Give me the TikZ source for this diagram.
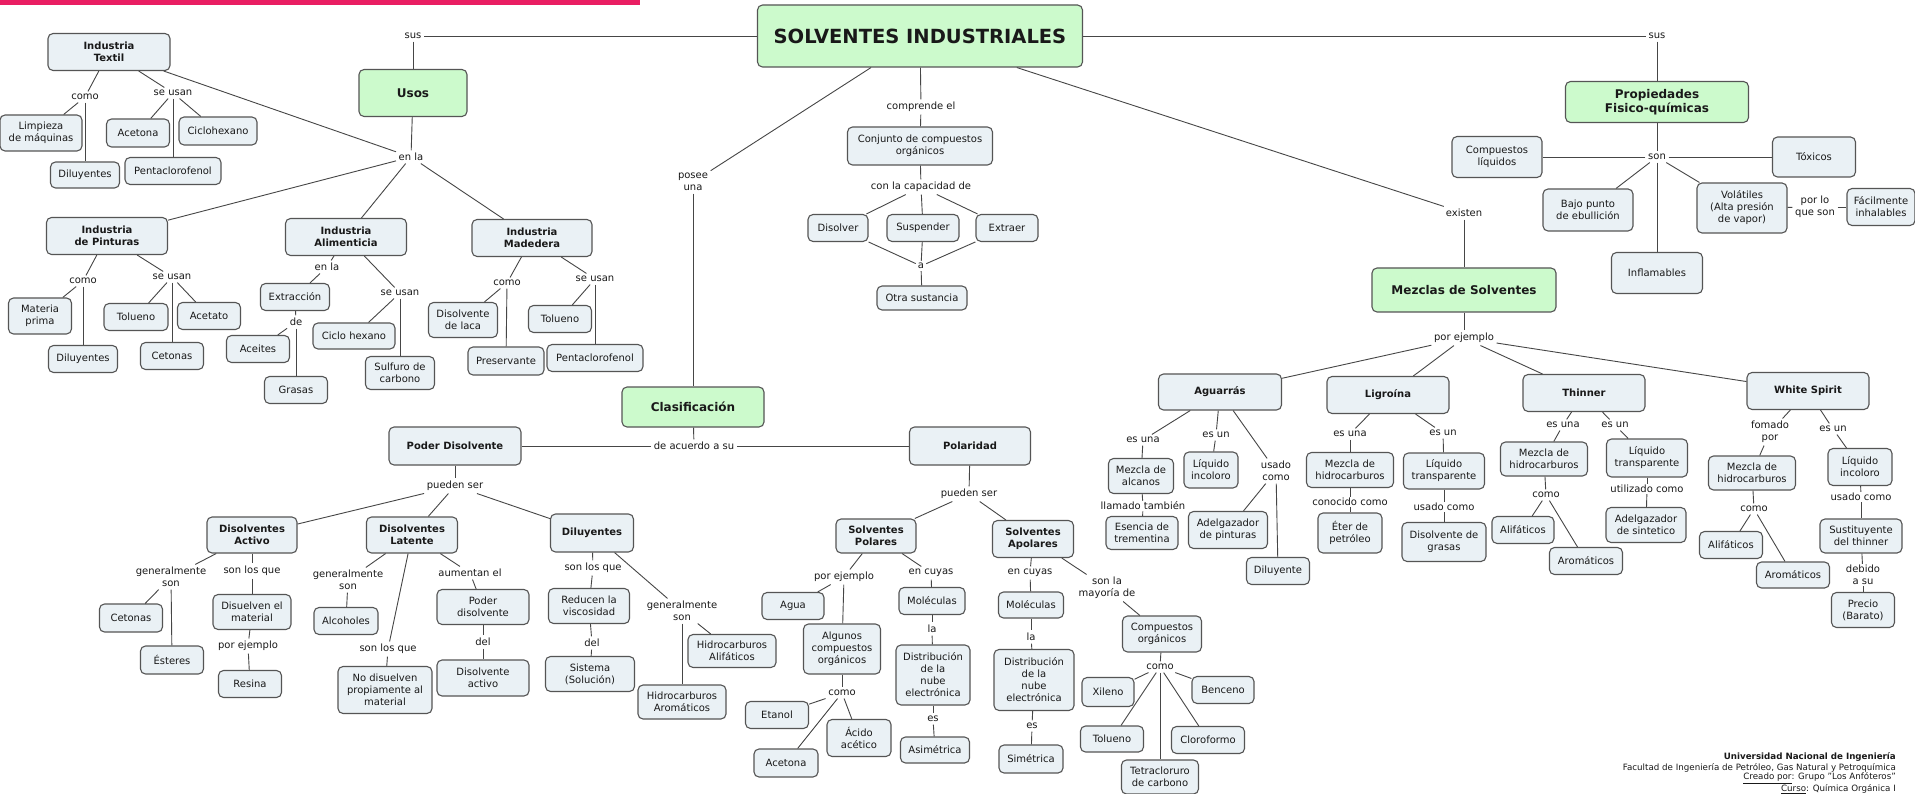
\documentclass[tikz,border=0pt]{standalone}
\usepackage{fontspec}
\setmainfont{DejaVu Sans}
\definecolor{bfill}{RGB}{234,241,245}
\definecolor{gfill}{RGB}{204,250,204}
\definecolor{bdr}{RGB}{85,85,85}
\definecolor{lc}{RGB}{70,70,70}
\definecolor{txt}{RGB}{25,25,25}
\definecolor{pinkbar}{RGB}{233,30,99}
\newcommand{\mynf}{\fontsize{10}{12}\selectfont}
\newcommand{\mybf}{\fontsize{10}{12}\selectfont\bfseries}
\newcommand{\mygf}{\fontsize{12}{14}\selectfont\bfseries}
\newcommand{\myft}{\fontsize{8.7}{10}\selectfont}
\tikzset{
  box/.style={draw=bdr, fill=bfill, rounded corners=5pt, line width=1.1pt, align=center, font=\mynf, text=txt, inner xsep=4pt, inner ysep=3pt},
  bbox/.style={box, font=\mybf},
  gbox/.style={box, fill=gfill, font=\mygf},
  lbl/.style={font=\mynf, text=txt, align=center, inner sep=2.5pt},
  ln/.style={draw=lc, line width=0.9pt},
  sz/.style 2 args={minimum width=#1pt, minimum height=#2pt},
  foot/.style={font=\myft, text=txt, anchor=east, inner sep=0pt},
}
\begin{document}
\begin{tikzpicture}[x=1pt, y=-1pt]
\fill[white] (0,0) rectangle (1915,794);
\useasboundingbox (0,0) rectangle (1915,794);
\fill[pinkbar] (0,0) rectangle (640,5);

% ---------- main ----------
\node[box, fill=gfill, font=\fontsize{19.5}{22}\selectfont\bfseries, sz={325}{62}] (main) at (920,36) {SOLVENTES INDUSTRIALES};

% ---------- Usos ----------
\node[lbl] (susL) at (413,36) {sus};
\node[gbox, sz={108}{47}] (usos) at (413,93) {Usos};
\node[lbl] (enla) at (411,157) {en la};
\node[bbox, sz={122}{37}] (textil) at (109,52) {Industria\\Textil};
\node[lbl] (comoT) at (85,97) {como};
\node[lbl] (seusanT) at (173,93) {se usan};
\node[box, sz={82}{36}] (limpieza) at (41,133) {Limpieza\\de máquinas};
\node[box, sz={63}{28}] (acetonaT) at (138,133) {Acetona};
\node[box, sz={78}{28}] (ciclohex) at (218,131) {Ciclohexano};
\node[box, sz={69}{26}] (diluT) at (85,175) {Diluyentes};
\node[box, sz={96}{27}] (pentaT) at (173,171) {Pentaclorofenol};

\node[bbox, sz={121}{37}] (pinturas) at (107,236) {Industria\\de Pinturas};
\node[lbl] (comoP) at (83,281) {como};
\node[lbl] (seusanP) at (172,277) {se usan};
\node[box, sz={63}{36}] (materia) at (40,316) {Materia\\prima};
\node[box, sz={69}{27}] (diluP) at (83,359) {Diluyentes};
\node[box, sz={64}{27}] (toluenoP) at (136,317) {Tolueno};
\node[box, sz={63}{27}] (acetato) at (209,316) {Acetato};
\node[box, sz={63}{27}] (cetonasP) at (172,356) {Cetonas};

\node[bbox, sz={121}{37}] (alimenticia) at (346,237) {Industria\\Alimenticia};
\node[lbl] (enlaA) at (327,267) {en la};
\node[box, sz={69}{27}] (extraccion) at (295,297) {Extracción};
\node[lbl] (deA) at (296,322) {de};
\node[box, sz={63}{27}] (aceites) at (258,349) {Aceites};
\node[box, sz={63}{27}] (grasas) at (296,390) {Grasas};
\node[lbl] (seusanA) at (400,293) {se usan};
\node[box, sz={82}{26}] (ciclohexA) at (354,336) {Ciclo hexano};
\node[box, sz={69}{33}] (sulfuro) at (400,373) {Sulfuro de\\carbono};

\node[bbox, sz={120}{37}] (madedera) at (532,238) {Industria\\Madedera};
\node[lbl] (comoM) at (507,283) {como};
\node[lbl] (seusanM) at (595,279) {se usan};
\node[box, sz={69}{35}] (laca) at (463,320) {Disolvente\\de laca};
\node[box, sz={76}{28}] (preserv) at (506,361) {Preservante};
\node[box, sz={63}{27}] (toluenoM) at (560,319) {Tolueno};
\node[box, sz={96}{27}] (pentaM) at (595,358) {Pentaclorofenol};

% ---------- comprende ----------
\node[lbl] (comprende) at (921,107) {comprende el};
\node[box, sz={145}{38}] (conjunto) at (920,146) {Conjunto de compuestos\\orgánicos};
\node[lbl] (capacidad) at (921,187) {con la capacidad de};
\node[box, sz={60}{27}] (disolver) at (838,228) {Disolver};
\node[box, sz={72}{27}] (suspender) at (923,228) {Suspender};
\node[box, sz={62}{27}] (extraer) at (1007,228) {Extraer};
\node[lbl, inner sep=2pt] (aL) at (921,266) {a};
\node[box, sz={90}{24}] (otra) at (922,298) {Otra sustancia};

% ---------- Propiedades ----------
\node[lbl] (susR) at (1657,36) {sus};
\node[gbox, sz={183}{41}] (propiedades) at (1657,102) {Propiedades\\Fisico-químicas};
\node[lbl] (sonR) at (1657,157) {son};
\node[box, sz={90}{41}] (compliq) at (1497,157) {Compuestos\\líquidos};
\node[box, sz={83}{40}] (toxicos) at (1814,157) {Tóxicos};
\node[box, sz={90}{42}] (bajo) at (1588,210) {Bajo punto\\de ebullición};
\node[box, sz={90}{50}] (volatiles) at (1742,208) {Volátiles\\(Alta presión\\de vapor)};
\node[lbl] (porlo) at (1815,207) {por lo\\que son};
\node[box, sz={68}{37}] (facil) at (1881,207) {Fácilmente\\inhalables};
\node[box, sz={91}{41}] (inflam) at (1657,273) {Inflamables};

% ---------- Mezclas ----------
\node[lbl] (existen) at (1464,213) {existen};
\node[gbox, sz={184}{44}] (mezclas) at (1464,290) {Mezclas de Solventes};
\node[lbl] (porej) at (1464,338) {por ejemplo};
\node[bbox, sz={123}{36}] (aguarras) at (1220,392) {Aguarrás};
\node[bbox, sz={122}{37}] (ligroina) at (1388,395) {Ligroína};
\node[bbox, sz={122}{37}] (thinner) at (1584,393) {Thinner};
\node[bbox, sz={122}{37}] (white) at (1808,391) {White Spirit};

\node[lbl] (esunaAg) at (1143,440) {es una};
\node[lbl] (esunAg) at (1216,435) {es un};
\node[lbl] (usadoAg) at (1276,471) {usado\\como};
\node[box, sz={65}{35}] (mezalc) at (1141,476) {Mezcla de\\alcanos};
\node[box, sz={54}{36}] (liqincA) at (1211,470) {Líquido\\incoloro};
\node[lbl, inner sep=1pt] (llamado) at (1143,506) {llamado también};
\node[box, sz={72}{33}] (esencia) at (1142,533) {Esencia de\\trementina};
\node[box, sz={79}{37}] (adelgP) at (1228,530) {Adelgazador\\de pinturas};
\node[box, sz={63}{27}] (diluyente) at (1278,571) {Diluyente};

\node[lbl] (esunaL) at (1350,434) {es una};
\node[box, sz={87}{35}] (mezhidL) at (1350,470) {Mezcla de\\hidrocarburos};
\node[lbl, inner sep=1pt] (conocido) at (1350,502) {conocido como};
\node[box, sz={64}{40}] (eter) at (1350,533) {Éter de\\petróleo};
\node[lbl] (esunL) at (1443,433) {es un};
\node[box, sz={81}{36}] (liqtrL) at (1444,471) {Líquido\\transparente};
\node[lbl, inner sep=1pt] (usadoL) at (1444,507) {usado como};
\node[box, sz={84}{39}] (disgrasas) at (1444,542) {Disolvente de\\grasas};

\node[lbl] (esunaT) at (1563,425) {es una};
\node[lbl] (esunT) at (1615,425) {es un};
\node[box, sz={87}{34}] (mezhidT) at (1544,459) {Mezcla de\\hidrocarburos};
\node[box, sz={81}{38}] (liqtrT) at (1647,458) {Líquido\\transparente};
\node[lbl] (comoTh) at (1546,495) {como};
\node[lbl, inner sep=1pt] (utilizado) at (1647,489) {utilizado como};
\node[box, sz={80}{35}] (adelgS) at (1646,525) {Adelgazador\\de sintetico};
\node[box, sz={62}{27}] (alifT) at (1523,530) {Alifáticos};
\node[box, sz={73}{27}] (aromT) at (1586,561) {Aromáticos};

\node[lbl] (fomado) at (1770,432) {fomado\\por};
\node[lbl] (esunW) at (1833,429) {es un};
\node[box, sz={87}{34}] (mezhidW) at (1752,473) {Mezcla de\\hidrocarburos};
\node[box, sz={64}{37}] (liqincW) at (1860,467) {Líquido\\incoloro};
\node[lbl] (comoW) at (1754,509) {como};
\node[lbl, inner sep=1pt] (usadoW) at (1861,497) {usado como};
\node[box, sz={82}{34}] (sustit) at (1861,536) {Sustituyente\\del thinner};
\node[box, sz={63}{27}] (alifW) at (1731,545) {Alifáticos};
\node[box, sz={73}{26}] (aromW) at (1793,575) {Aromáticos};
\node[lbl, inner sep=1pt] (debido) at (1863,575) {debido\\a su};
\node[box, sz={63}{35}] (precio) at (1863,610) {Precio\\(Barato)};

% ---------- Clasificacion ----------
\node[lbl] (posee) at (693,182) {posee\\una};
\node[gbox, sz={142}{40}] (clasif) at (693,407) {Clasificación};
\node[lbl] (deacuerdo) at (694,446) {de acuerdo a su};
\node[bbox, sz={132}{38}] (poder) at (455,446) {Poder Disolvente};
\node[bbox, sz={121}{38}] (polaridad) at (970,446) {Polaridad};

\node[lbl] (puedenP) at (455,486) {pueden ser};
\node[bbox, sz={90}{36}] (activo) at (252,535) {Disolventes\\Activo};
\node[bbox, sz={91}{36}] (latente) at (412,535) {Disolventes\\Latente};
\node[bbox, sz={83}{38}] (diluB) at (592,533) {Diluyentes};

\node[lbl] (genA) at (171,577) {generalmente\\son};
\node[lbl] (sonlosA) at (252,571) {son los que};
\node[box, sz={63}{28}] (cetonasA) at (131,618) {Cetonas};
\node[box, sz={63}{28}] (esteres) at (172,660) {Ésteres};
\node[box, sz={78}{35}] (disuelven) at (252,612) {Disuelven el\\material};
\node[lbl] (porejA) at (248,646) {por ejemplo};
\node[box, sz={63}{27}] (resina) at (250,684) {Resina};

\node[lbl] (genL) at (348,580) {generalmente\\son};
\node[box, sz={64}{27}] (alcoholes) at (346,621) {Alcoholes};
\node[lbl] (sonlosL) at (388,649) {son los que};
\node[box, sz={94}{47}] (nodis) at (385,690) {No disuelven\\propiamente al\\material};
\node[lbl] (aumentan) at (470,573) {aumentan el};
\node[box, sz={92}{35}] (poderdis) at (483,607) {Poder\\disolvente};
\node[lbl] (delL) at (483,642) {del};
\node[box, sz={92}{36}] (disact) at (483,678) {Disolvente\\activo};

\node[lbl] (sonlosD) at (593,568) {son los que};
\node[box, sz={81}{35}] (reducen) at (589,606) {Reducen la\\viscosidad};
\node[lbl] (delD) at (592,643) {del};
\node[box, sz={89}{35}] (sistema) at (590,674) {Sistema\\(Solución)};
\node[lbl] (genD) at (682,611) {generalmente\\son};
\node[box, sz={88}{33}] (hidali) at (732,651) {Hidrocarburos\\Alifáticos};
\node[box, sz={88}{34}] (hidaro) at (682,702) {Hidrocarburos\\Aromáticos};

\node[lbl] (puedenPol) at (969,494) {pueden ser};
\node[bbox, sz={80}{34}] (polares) at (876,536) {Solventes\\Polares};
\node[bbox, sz={81}{37}] (apolares) at (1033,539) {Solventes\\Apolares};

\node[lbl] (porejPol) at (844,577) {por ejemplo};
\node[box, sz={62}{27}] (agua) at (793,606) {Agua};
\node[box, sz={77}{50}] (algunos) at (842,649) {Algunos\\compuestos\\orgánicos};
\node[lbl] (comoPol) at (842,693) {como};
\node[box, sz={63}{27}] (etanol) at (777,715) {Etanol};
\node[box, sz={64}{28}] (acetonaP) at (786,763) {Acetona};
\node[box, sz={64}{37}] (acido) at (859,738) {Ácido\\acético};
\node[lbl] (encuyasP) at (931,573) {en cuyas};
\node[box, sz={66}{27}] (moleP) at (932,601) {Moléculas};
\node[lbl] (laP) at (932,629) {la};
\node[box, sz={74}{60}] (distP) at (933,675) {Distribución\\de la\\nube\\electrónica};
\node[lbl] (esP) at (933,719) {es};
\node[box, sz={69}{26}] (asim) at (935,750) {Asimétrica};

\node[lbl] (encuyasA) at (1030,573) {en cuyas};
\node[box, sz={65}{26}] (moleA) at (1031,605) {Moléculas};
\node[lbl] (laA) at (1031,637) {la};
\node[box, sz={80}{61}] (distA) at (1034,680) {Distribución\\de la\\nube\\electrónica};
\node[lbl] (esA) at (1032,726) {es};
\node[box, sz={64}{28}] (simet) at (1031,759) {Simétrica};
\node[lbl] (sonlaA) at (1107,588) {son la\\mayoría de};
\node[box, sz={79}{36}] (compA) at (1162,634) {Compuestos\\orgánicos};
\node[lbl] (comoA) at (1160,667) {como};
\node[box, sz={52}{29}] (xileno) at (1108,692) {Xileno};
\node[box, sz={62}{27}] (benceno) at (1223,690) {Benceno};
\node[box, sz={63}{26}] (toluenoA) at (1112,739) {Tolueno};
\node[box, sz={73}{27}] (cloro) at (1208,740) {Cloroformo};
\node[box, sz={77}{34}] (tetra) at (1160,777) {Tetracloruro\\de carbono};

% ---------- footer ----------
\node[foot, font=\myft\bfseries] (f1) at (1896,757) {Universidad Nacional de Ingeniería};
\node[foot] (f2) at (1896,767.7) {Facultad de Ingeniería de Petróleo, Gas Natural y Petroquímica};
\node[foot] (f3) at (1896,778.4) {\underline{Creado por}: Grupo "Los Anfóteros"};
\node[foot] (f4) at (1896,789) {\underline{Curso}: Química Orgánica I};

% ---------- connectors ----------
\foreach \a/\b in {
  susL/main, susL/usos, usos/enla, enla/textil, enla/pinturas, enla/alimenticia, enla/madedera,
  textil/comoT, comoT/limpieza, comoT/diluT, textil/seusanT, seusanT/acetonaT, seusanT/pentaT, seusanT/ciclohex,
  pinturas/comoP, comoP/materia, comoP/diluP, pinturas/seusanP, seusanP/toluenoP, seusanP/cetonasP, seusanP/acetato,
  alimenticia/enlaA, enlaA/extraccion, extraccion/deA, deA/aceites, deA/grasas, alimenticia/seusanA, seusanA/ciclohexA, seusanA/sulfuro,
  madedera/comoM, comoM/laca, comoM/preserv, madedera/seusanM, seusanM/toluenoM, seusanM/pentaM,
  main/posee, posee/clasif, main/comprende, comprende/conjunto, conjunto/capacidad, capacidad/disolver, capacidad/suspender, capacidad/extraer,
  disolver/aL, suspender/aL, extraer/aL, aL/otra,
  main/susR, susR/propiedades, propiedades/sonR, sonR/compliq, sonR/toxicos, sonR/bajo, sonR/volatiles, sonR/inflam, volatiles/porlo, porlo/facil,
  main/existen, existen/mezclas, mezclas/porej, porej/aguarras, porej/ligroina, porej/thinner, porej/white,
  aguarras/esunaAg, esunaAg/mezalc, mezalc/llamado, llamado/esencia, aguarras/esunAg, esunAg/liqincA, aguarras/usadoAg, usadoAg/adelgP, usadoAg/diluyente,
  ligroina/esunaL, esunaL/mezhidL, mezhidL/conocido, conocido/eter, ligroina/esunL, esunL/liqtrL, liqtrL/usadoL, usadoL/disgrasas,
  thinner/esunaT, esunaT/mezhidT, mezhidT/comoTh, comoTh/alifT, comoTh/aromT, thinner/esunT, esunT/liqtrT, liqtrT/utilizado, utilizado/adelgS,
  white/fomado, fomado/mezhidW, mezhidW/comoW, comoW/alifW, comoW/aromW, white/esunW, esunW/liqincW, liqincW/usadoW, usadoW/sustit, sustit/debido, debido/precio,
  clasif/deacuerdo, deacuerdo/poder, deacuerdo/polaridad,
  poder/puedenP, puedenP/activo, puedenP/latente, puedenP/diluB,
  activo/genA, genA/cetonasA, genA/esteres, activo/sonlosA, sonlosA/disuelven, disuelven/porejA, porejA/resina,
  latente/genL, genL/alcoholes, latente/sonlosL, sonlosL/nodis, latente/aumentan, aumentan/poderdis, poderdis/delL, delL/disact,
  diluB/sonlosD, sonlosD/reducen, reducen/delD, delD/sistema, diluB/genD, genD/hidali, genD/hidaro,
  polaridad/puedenPol, puedenPol/polares, puedenPol/apolares,
  polares/porejPol, porejPol/agua, porejPol/algunos, algunos/comoPol, comoPol/etanol, comoPol/acetonaP, comoPol/acido,
  polares/encuyasP, encuyasP/moleP, moleP/laP, laP/distP, distP/esP, esP/asim,
  apolares/encuyasA, encuyasA/moleA, moleA/laA, laA/distA, distA/esA, esA/simet,
  apolares/sonlaA, sonlaA/compA, compA/comoA, comoA/xileno, comoA/benceno, comoA/toluenoA, comoA/cloro, comoA/tetra}
  { \draw[ln] (\a) -- (\b); }
\end{tikzpicture}
\end{document}
